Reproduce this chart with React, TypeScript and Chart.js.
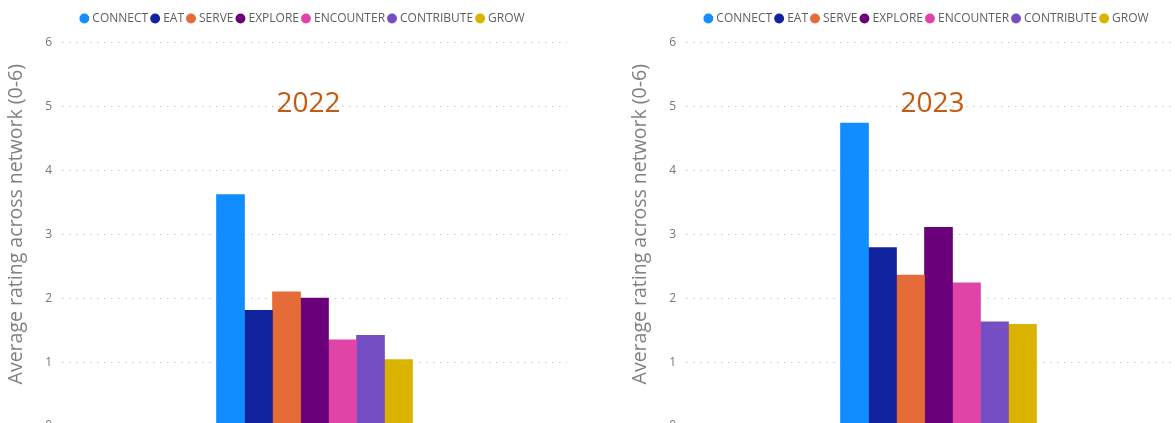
import React, { useEffect, useRef } from 'react';
import { Chart, registerables } from 'chart.js';

Chart.register(...registerables);
Chart.defaults.font.family = '"Open Sans", "Noto Sans", sans-serif';

const categories = ['CONNECT', 'EAT', 'SERVE', 'EXPLORE', 'ENCOUNTER', 'CONTRIBUTE', 'GROW'];
const colors = ['#118DFF', '#12239E', '#E66C37', '#6B007B', '#E044A7', '#744EC2', '#D9B300'];
const values2022 = [3.62, 1.81, 2.1, 2.0, 1.35, 1.42, 1.04];
const values2023 = [4.74, 2.79, 2.36, 3.11, 2.24, 1.63, 1.59];
const yMin = 0;
const yMax = 6;
const yStep = 1;
const yAxisTitle = 'Average rating across network (0-6)';

const CANVAS_W = 607;
const CANVAS_H = 460;

const legendSpacer = {
  id: 'legendSpacer',
  afterInit(chart: any) {
    const legend = chart.legend;
    if (!legend) return;
    const fit = legend.fit;
    legend.fit = function () {
      fit.call(this);
      this.height += 8;
    };
  },
};

const axisTitle = {
  id: 'axisTitle',
  afterDraw(chart: any) {
    const { ctx, chartArea } = chart;
    const scale = chart.scales.y;
    const x = scale.left + 16;
    const y = (chartArea.top + chartArea.bottom) / 2 - 10;
    ctx.save();
    ctx.translate(x, y);
    ctx.rotate(-Math.PI / 2);
    ctx.font = '19.5px "Open Sans", sans-serif';
    ctx.fillStyle = '#808080';
    ctx.textAlign = 'center';
    ctx.textBaseline = 'middle';
    ctx.fillText(yAxisTitle, 0, 0);
    ctx.restore();
  },
};

const yearText = (text: string) => ({
  id: 'yearText',
  afterDraw(chart: any) {
    const { ctx, chartArea } = chart;
    const x = (chartArea.left + chartArea.right) / 2 - 6;
    const y = chartArea.top + (chartArea.bottom - chartArea.top) * 0.16;
    ctx.save();
    ctx.font = '28px "Open Sans", sans-serif';
    ctx.fillStyle = '#C55A11';
    ctx.textAlign = 'center';
    ctx.textBaseline = 'middle';
    ctx.fillText(text, x, y);
    ctx.restore();
  },
});

function BarPanel({ year, values, left }: { year: string; values: number[]; left: number }) {
  const ref = useRef<HTMLCanvasElement | null>(null);
  useEffect(() => {
    if (!ref.current) return;
    const chart = new Chart(ref.current, {
      type: 'bar',
      data: {
        labels: [year],
        datasets: categories.map((c, i) => ({
          label: c,
          data: [values[i]],
          backgroundColor: colors[i],
          borderWidth: 0,
          barThickness: 28,
        })),
      },
      options: {
        responsive: false,
        animation: false,
        devicePixelRatio: 1,
        layout: { padding: { top: 7.5, bottom: 34, left: 0, right: 0 } },
        plugins: {
          legend: {
            position: 'top',
            align: 'center',
            labels: {
              usePointStyle: true,
              pointStyle: 'circle',
              boxWidth: 4,
              boxHeight: 7,
              padding: 5,
              color: '#605E5C',
              font: { size: 12 },
            },
          },
          tooltip: { enabled: false },
        },
        scales: {
          x: { display: false },
          y: {
            min: yMin,
            max: yMax,
            ticks: { stepSize: yStep, color: '#777777', font: { size: 12 }, padding: 10 },
            grid: { color: '#C8C6C4', drawTicks: false, lineWidth: 1 },
            border: { display: false, dash: [1.5, 5.5] },
            title: { display: false },
            afterFit: (s: any) => {
              s.width = 62;
            },
          },
          yR: {
            position: 'right',
            display: true,
            grid: { display: false },
            ticks: { display: false },
            border: { display: false },
            afterFit: (s: any) => {
              s.width = 40;
            },
          },
        },
      } as any,
      plugins: [legendSpacer, axisTitle, yearText(year)],
    });
    return () => chart.destroy();
  }, [year, values]);
  return (
    <canvas
      ref={ref}
      width={CANVAS_W}
      height={CANVAS_H}
      style={{ position: 'absolute', left, top: 0, width: CANVAS_W, height: CANVAS_H }}
    />
  );
}

export default function App() {
  return (
    <div
      style={{
        position: 'absolute',
        left: 0,
        top: 0,
        width: 1175,
        height: 423,
        overflow: 'hidden',
        background: '#ffffff',
      }}
    >
      <BarPanel year="2022" values={values2022} left={0} />
      <BarPanel year="2023" values={values2023} left={624} />
    </div>
  );
}
